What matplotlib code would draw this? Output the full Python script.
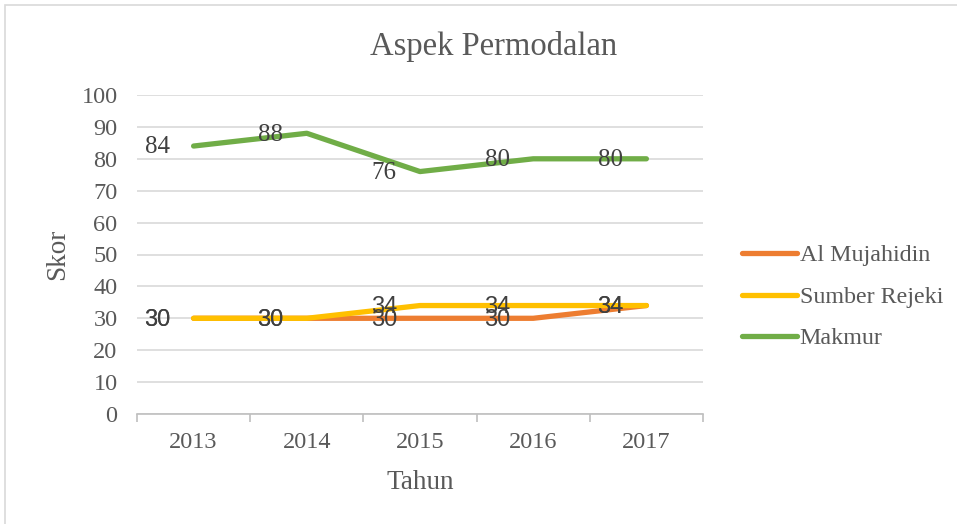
import matplotlib
matplotlib.use("Agg")
import matplotlib.pyplot as plt
from matplotlib.patches import Rectangle

years = ["2013", "2014", "2015", "2016", "2017"]
al_mujahidin = [30, 30, 30, 30, 34]
sumber_rejeki = [30, 30, 34, 34, 34]
makmur = [84, 88, 76, 80, 80]
series_names = ["Al Mujahidin", "Sumber Rejeki", "Makmur"]
colors = ["#ED7D31", "#FFC000", "#70AD47"]

serif = ["Liberation Serif", "DejaVu Serif"]
sans = ["Liberation Sans", "DejaVu Sans"]
txt = "#595959"

fig = plt.figure(figsize=(9.57, 5.24), dpi=100)
fig.patches.append(Rectangle((5/957, -0.1), 1.2, 1.1 - 5/524, transform=fig.transFigure,
                             fill=False, edgecolor="#d9d9d9", linewidth=1.2))
ax = fig.add_axes([137/957, 1 - 414/524, 566/957, 319/524])

x = list(range(len(years)))
for vals, name, c in zip([al_mujahidin, sumber_rejeki, makmur], series_names, colors):
    ax.plot(x, vals, color=c, linewidth=3.8, solid_capstyle="round", label=name, zorder=3)

for vals in [al_mujahidin, sumber_rejeki]:
    for xi, v in zip(x, vals):
        ax.annotate(str(v), (xi, v), xytext=(-26, -1), textcoords="offset points",
                    ha="center", va="center", fontsize=17, family=sans, color="#404040", zorder=4)
for xi, v in zip(x, makmur):
    ax.annotate(str(v), (xi, v), xytext=(-26, -1), textcoords="offset points",
                ha="center", va="center", fontsize=18, family=serif, color="#404040", zorder=4)

ax.set_xlim(-0.5, len(years) - 0.5)
ax.set_ylim(0, 100)
ax.set_yticks(range(0, 101, 10))
ax.set_xticks(x)
ax.set_xticklabels(years)
ax.set_xticks([i - 0.5 for i in range(len(years) + 1)], minor=True)
ax.grid(axis="y", color="#d9d9d9", linewidth=1.2, zorder=0)
for s in ["top", "right", "left"]:
    ax.spines[s].set_visible(False)
ax.spines["bottom"].set_color("#bfbfbf")
ax.spines["bottom"].set_linewidth(1.2)
ax.tick_params(axis="y", length=0, pad=14, labelsize=17.5, labelcolor=txt)
ax.tick_params(axis="x", which="major", length=0, pad=13, labelsize=17.5, labelcolor=txt)
ax.tick_params(axis="x", which="minor", length=6, color="#bfbfbf", width=1.2)
for lab in ax.get_xticklabels() + ax.get_yticklabels():
    lab.set_family(serif)

fig.text(494/957, 1 - 46/524, "Aspek Permodalan", family=serif, fontsize=23.5, color=txt,
         ha="center", va="center")
ax.set_xlabel("Tahun", family=serif, fontsize=19.5, color=txt, labelpad=12)
ax.set_ylabel("Skor", family=serif, fontsize=19.5, color=txt, labelpad=8)

leg = fig.legend(loc="center left", bbox_to_anchor=(742/957, 1 - 297/524), frameon=False,
                 prop={"family": serif, "size": 17.3}, labelcolor=txt, handlelength=2.3,
                 handletextpad=0.1, labelspacing=0.82, borderpad=0, borderaxespad=0)

fig.savefig("out.png", dpi=100)
